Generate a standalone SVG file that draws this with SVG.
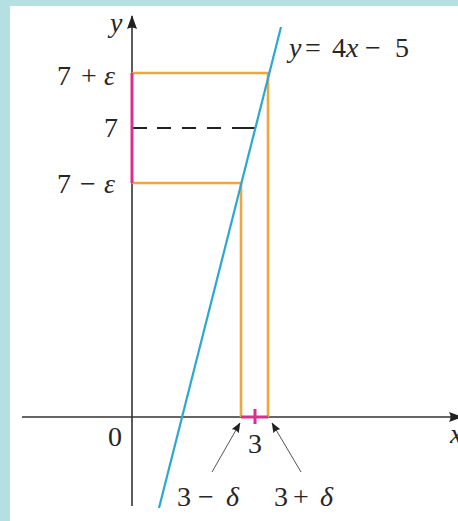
<svg xmlns="http://www.w3.org/2000/svg" width="458" height="521" viewBox="0 0 458 521">
<defs>
<style>
.t{font-family:"Liberation Serif","Times New Roman",serif;font-size:28px;fill:#262626}
.i{font-style:italic}
.ax{stroke:#333;stroke-width:1.6;fill:none}
.or{stroke:#f0a540;stroke-width:2.6;fill:none}
.mg{stroke:#d8308c;stroke-width:3;fill:none}
.bl{stroke:#2aa8cf;stroke-width:2.2;fill:none}
.pt{stroke:#555;stroke-width:1;fill:none}
</style>
<marker id="axh" viewBox="0 0 14 10" refX="13" refY="5" markerWidth="14" markerHeight="10" markerUnits="userSpaceOnUse" orient="auto">
<path d="M0,0 L14,5 L0,10 Q3,5 0,0 Z" fill="#222"/>
</marker>
<marker id="sh" viewBox="0 0 10 8" refX="9.5" refY="4" markerWidth="10" markerHeight="8" markerUnits="userSpaceOnUse" orient="auto">
<path d="M0,0 L10,4 L0,8 Q2,4 0,0 Z" fill="#222"/>
</marker>
</defs>
<rect x="0" y="0" width="458" height="521" fill="#b6dfe2"/>
<rect x="10" y="6" width="448" height="515" fill="#ffffff"/>

<g id="connectors">
<line id="x-axis" class="ax" x1="22" y1="417" x2="462" y2="417" marker-end="url(#axh)"/>
<line id="y-axis" class="ax" x1="132" y1="506" x2="132" y2="16" marker-end="url(#axh)"/>
<g id="orange-box">
<polyline class="or" points="132,73 268,73 268,417"/>
<polyline class="or" points="132,183 241,183 241,417"/>
</g>
<g id="dashed-7" stroke="#222" stroke-width="2">
<line x1="133" y1="128" x2="147" y2="128"/>
<line x1="157" y1="128" x2="171" y2="128"/>
<line x1="182" y1="128" x2="196" y2="128"/>
<line x1="207" y1="128" x2="221" y2="128"/>
<line x1="232" y1="128" x2="256" y2="128"/>
</g>
<g id="intervals">
<line class="mg" x1="132" y1="73" x2="132" y2="183"/>
<line class="mg" x1="241" y1="417" x2="268" y2="417"/>
<line class="mg" x1="255" y1="409" x2="255" y2="424" stroke-width="2.4"/>
</g>
<line id="graph-line" class="bl" x1="281" y1="27" x2="159" y2="508"/>
<line id="ptr-left" class="pt" x1="212" y1="472" x2="240" y2="423" marker-end="url(#sh)"/>
<line id="ptr-right" class="pt" x1="301" y1="472" x2="272" y2="423" marker-end="url(#sh)"/>
</g>

<g id="labels">
<text class="t i" x="110" y="32">y</text>
<text class="t i" x="450" y="443">x</text>
<text class="t"><tspan x="57" y="85">7</tspan><tspan x="81" y="85">+</tspan><tspan x="104" y="85" class="i">ε</tspan></text>
<text class="t" x="104" y="137">7</text>
<text class="t"><tspan x="57" y="193">7</tspan><tspan x="80" y="193">−</tspan><tspan x="104" y="193" class="i">ε</tspan></text>
<text class="t"><tspan x="289" y="57" class="i">y</tspan><tspan x="305" y="57">=</tspan><tspan x="332" y="57">4</tspan><tspan x="346" y="57" class="i">x</tspan><tspan x="365" y="57">−</tspan><tspan x="395" y="57">5</tspan></text>
<text class="t" x="108" y="446">0</text>
<text class="t" x="248" y="453">3</text>
<text class="t"><tspan x="177" y="506">3</tspan><tspan x="198" y="506">−</tspan><tspan x="226" y="506" class="i">δ</tspan></text>
<text class="t"><tspan x="274" y="506">3</tspan><tspan x="293" y="506">+</tspan><tspan x="320" y="506" class="i">δ</tspan></text>
</g>
</svg>
